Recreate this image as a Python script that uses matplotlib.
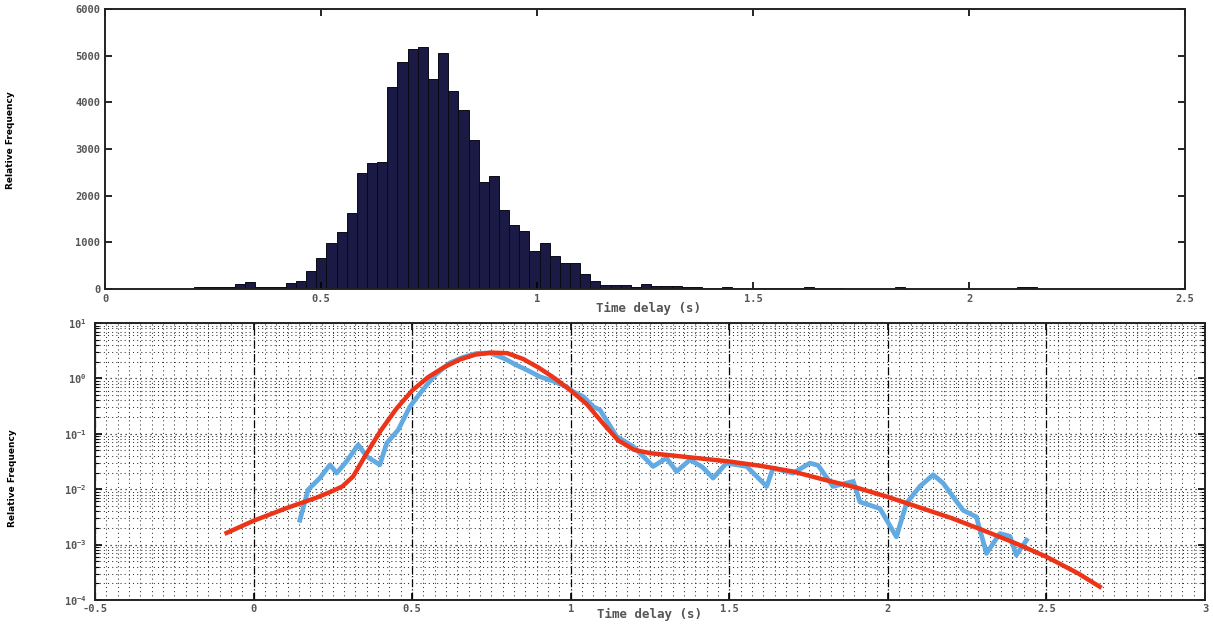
import numpy as np
import matplotlib
matplotlib.use("Agg")
import matplotlib.pyplot as plt
from matplotlib.ticker import FixedLocator, FuncFormatter, LogLocator, AutoMinorLocator

# histogram of time delays (counts per bin), bins start at 0.2068 s, width 0.0235 s
bin_start = 0.2068
bin_width = 0.0235
counts = [50, 50, 40, 40, 100, 140, 50, 50, 50, 130,
          180, 380, 670, 980, 1220, 1620, 2480, 2700, 2725, 4330,
          4860, 5140, 5190, 4490, 5060, 4240, 3830, 3190, 2300, 2430,
          1700, 1370, 1250, 820, 980, 715, 565, 550, 320, 180,
          90, 90, 90, 50, 100, 60, 60, 55, 50, 40,
          30, 25, 40, 20, 25, 20, 30, 20, 30, 30,
          35, 30, 15, 15, 10, 10, 10, 10, 10, 40,
          10, 10, 10, 10, 10, 10, 10, 10, 10, 10,
          10, 40, 40, 10, 10]

# measured relative frequency (log10)
meas_t = [0.146, 0.172, 0.209, 0.241, 0.262, 0.293, 0.330, 0.357, 0.398, 0.420,
          0.456, 0.493, 0.525, 0.570, 0.619, 0.660, 0.703, 0.745, 0.790, 0.829,
          0.866, 0.903, 0.945, 0.987, 1.008, 1.040, 1.071, 1.092, 1.120, 1.145,
          1.197, 1.229, 1.260, 1.302, 1.334, 1.376, 1.415, 1.449, 1.491, 1.555,
          1.618, 1.638, 1.701, 1.754, 1.780, 1.827, 1.891, 1.912, 1.975, 2.027,
          2.059, 2.101, 2.143, 2.174, 2.237, 2.279, 2.311, 2.353, 2.385, 2.405,
          2.437]
meas_log = [-2.56, -2.01, -1.80, -1.56, -1.71, -1.50, -1.20, -1.41, -1.56, -1.17,
            -0.93, -0.51, -0.27, 0.05, 0.28, 0.38, 0.45, 0.46, 0.36, 0.24,
            0.14, 0.03, -0.05, -0.15, -0.24, -0.33, -0.51, -0.57, -0.82, -1.05,
            -1.23, -1.41, -1.59, -1.44, -1.68, -1.47, -1.60, -1.80, -1.53, -1.59,
            -1.95, -1.62, -1.71, -1.53, -1.57, -1.95, -1.86, -2.23, -2.35, -2.86,
            -2.25, -1.95, -1.74, -1.89, -2.38, -2.50, -3.16, -2.80, -2.85, -3.19,
            -2.92]

# fitted curve (log10)
fit_t = [-0.085, 0.0, 0.1, 0.2, 0.25, 0.28, 0.314, 0.357, 0.40, 0.45,
         0.50, 0.55, 0.60, 0.65, 0.70, 0.75, 0.80, 0.85, 0.90, 0.95,
         1.00, 1.05, 1.10, 1.15, 1.20, 1.25, 1.30, 1.40, 1.50, 1.60,
         1.70, 1.80, 1.90, 2.00, 2.10, 2.20, 2.30, 2.40, 2.50, 2.60,
         2.668]
fit_log = [-2.79, -2.57, -2.35, -2.15, -2.03, -1.95, -1.77, -1.35, -0.95, -0.55,
           -0.22, 0.02, 0.20, 0.34, 0.43, 0.465, 0.455, 0.35, 0.19, 0.00,
           -0.22, -0.46, -0.80, -1.12, -1.29, -1.35, -1.38, -1.44, -1.50, -1.58,
           -1.68, -1.83, -1.97, -2.14, -2.33, -2.52, -2.74, -2.97, -3.22, -3.52,
           -3.76]

tick_font = dict(family="DejaVu Sans Mono", weight="bold", size=9)
label_color = "#555555"


def fmt(v, pos):
    return "%g" % v


fig = plt.figure(figsize=(12.13, 6.24), dpi=100)

# top: histogram
ax1 = fig.add_axes([0.0866, 0.5369, 0.8904, 0.4487])
edges = bin_start + bin_width * np.arange(len(counts))
ax1.bar(edges, counts, width=bin_width, align="edge", color="#1b1a45",
        edgecolor="#0a0a14", linewidth=0.7)
ax1.set_xlim(0, 2.5)
ax1.set_ylim(0, 6000)
ax1.xaxis.set_major_locator(FixedLocator([0, 0.5, 1, 1.5, 2, 2.5]))
ax1.yaxis.set_major_locator(FixedLocator([0, 1000, 2000, 3000, 4000, 5000, 6000]))
ax1.xaxis.set_major_formatter(FuncFormatter(fmt))
ax1.set_xlabel("Time delay (s)", fontdict=tick_font, color=label_color)
ax1.xaxis.set_label_coords(0.503, -0.045)
ax1.set_ylabel("Relative Frequency", fontsize=6.5, weight="bold")
ax1.yaxis.set_label_coords(-0.083, 0.53)

# bottom: log plot
ax2 = fig.add_axes([0.0783, 0.0385, 0.9151, 0.4439])
ax2.set_yscale("log")
ax2.plot(meas_t, 10.0 ** np.array(meas_log), color="#62aae2", lw=3.4,
         solid_joinstyle="round")
ax2.plot(fit_t, 10.0 ** np.array(fit_log), color="#ec3418", lw=3.2,
         solid_joinstyle="round")
ax2.set_xlim(-0.5, 3)
ax2.set_ylim(1e-4, 1e1)
ax2.xaxis.set_major_locator(FixedLocator([-0.5, 0, 0.5, 1, 1.5, 2, 2.5, 3]))
ax2.xaxis.set_major_formatter(FuncFormatter(fmt))
ax2.xaxis.set_minor_locator(AutoMinorLocator(14))
ax2.yaxis.set_major_locator(LogLocator(base=10, numticks=10))
ax2.yaxis.set_minor_locator(LogLocator(base=10, subs=np.arange(2, 10), numticks=20))
ax2.grid(True, which="major", axis="x", ls="-.", lw=0.9, color="black")
ax2.grid(True, which="major", axis="y", ls=(0, (1, 3)), lw=0.9, color="#222222")
ax2.grid(True, which="minor", ls=(0, (1, 3)), lw=0.75, color="#333333")
ax2.set_axisbelow(True)
ax2.set_xlabel("Time delay (s)", fontdict=tick_font, color=label_color)
ax2.xaxis.set_label_coords(0.5, -0.028)
ax2.set_ylabel("Relative Frequency", fontsize=6.5, weight="bold")
ax2.yaxis.set_label_coords(-0.070, 0.44)

for ax in (ax1, ax2):
    for s in ax.spines.values():
        s.set_linewidth(1.4)
        s.set_color("#222222")
    ax.tick_params(which="both", direction="in", top=True, right=True)
    ax.tick_params(which="major", length=5, width=1.2, labelcolor=label_color)
    ax.tick_params(which="minor", length=3, width=0.8)
    for lab in ax.get_xticklabels() + ax.get_yticklabels():
        lab.set_fontfamily("DejaVu Sans Mono")
        lab.set_fontweight("bold")
        lab.set_fontsize(7.5)
ax2.tick_params(axis="x", which="minor", length=0)
ax2.tick_params(axis="x", which="major", pad=3)
ax2.tick_params(axis="y", which="major", pad=6)

fig.savefig("out.png", dpi=100)
